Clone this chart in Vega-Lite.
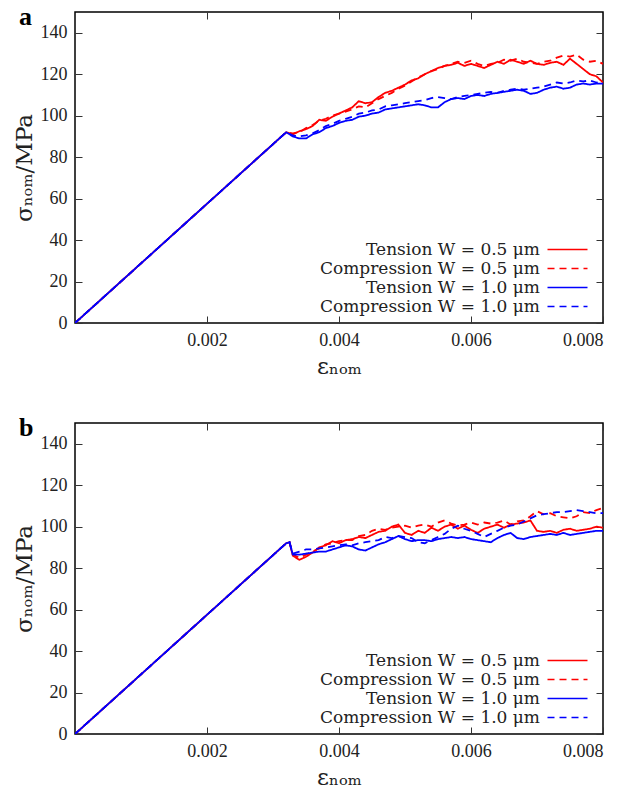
{
"$schema": "https://vega.github.io/schema/vega-lite/v6.json",
"padding": {"left": 12, "top": 2, "right": 0, "bottom": 0},
"background": "white",
"config": {
  "font": "Liberation Serif",
  "view": {"stroke": "black", "strokeWidth": 1.5},
  "axis": {"labelFont": "Liberation Serif", "labelFontSize": 18, "labelColor": "#222", "titleFont": "DejaVu Serif", "titleFontSize": 23, "titleFontWeight": "normal", "titleColor": "#222", "grid": false, "domain": false, "tickColor": "#333", "tickSize": -7, "tickWidth": 1, "labelPadding": 15},
  "axisX": {"titlePadding": 6},
  "legend": {"orient": "none", "legendX": 484, "legendY": 229, "title": null, "labelAlign": "right", "labelOffset": -36, "symbolType": "M-4,0H4", "symbolSize": 100, "symbolStrokeWidth": 1.6, "rowPadding": 1, "padding": 0, "labelFont": "DejaVu Serif", "labelFontSize": 17, "labelColor": "#222", "labelLimit": 0}
},
"datasets": {"d": [
{"p":"a","s":"T05","x":0,"y":0},{"p":"a","s":"T05","x":0.0032,"y":92},{"p":"a","s":"T05","x":0.0033,"y":91},{"p":"a","s":"T05","x":0.0034,"y":92.5},{"p":"a","s":"T05","x":0.0035,"y":93.5},{"p":"a","s":"T05","x":0.0036,"y":95},{"p":"a","s":"T05","x":0.0037,"y":98},{"p":"a","s":"T05","x":0.0038,"y":97.5},{"p":"a","s":"T05","x":0.0039,"y":99.5},{"p":"a","s":"T05","x":0.004,"y":101},{"p":"a","s":"T05","x":0.0041,"y":102.5},{"p":"a","s":"T05","x":0.0042,"y":104},{"p":"a","s":"T05","x":0.0043,"y":107},{"p":"a","s":"T05","x":0.0044,"y":106},{"p":"a","s":"T05","x":0.0045,"y":106.5},{"p":"a","s":"T05","x":0.0046,"y":109},{"p":"a","s":"T05","x":0.0047,"y":111},{"p":"a","s":"T05","x":0.0048,"y":112},{"p":"a","s":"T05","x":0.0049,"y":113.5},{"p":"a","s":"T05","x":0.005,"y":115},{"p":"a","s":"T05","x":0.0051,"y":117},{"p":"a","s":"T05","x":0.0052,"y":118},{"p":"a","s":"T05","x":0.0053,"y":120},{"p":"a","s":"T05","x":0.0054,"y":121.5},{"p":"a","s":"T05","x":0.0055,"y":123},{"p":"a","s":"T05","x":0.0056,"y":124},{"p":"a","s":"T05","x":0.0057,"y":124.5},{"p":"a","s":"T05","x":0.0058,"y":125.5},{"p":"a","s":"T05","x":0.0059,"y":124},{"p":"a","s":"T05","x":0.006,"y":125},{"p":"a","s":"T05","x":0.0061,"y":124},{"p":"a","s":"T05","x":0.0062,"y":123},{"p":"a","s":"T05","x":0.0063,"y":124.5},{"p":"a","s":"T05","x":0.0064,"y":126},{"p":"a","s":"T05","x":0.0065,"y":125},{"p":"a","s":"T05","x":0.0066,"y":127},{"p":"a","s":"T05","x":0.0067,"y":126},{"p":"a","s":"T05","x":0.0068,"y":125},{"p":"a","s":"T05","x":0.0069,"y":126.5},{"p":"a","s":"T05","x":0.007,"y":125},{"p":"a","s":"T05","x":0.0071,"y":124.5},{"p":"a","s":"T05","x":0.0072,"y":125.5},{"p":"a","s":"T05","x":0.0073,"y":126},{"p":"a","s":"T05","x":0.0074,"y":124.5},{"p":"a","s":"T05","x":0.0075,"y":127.5},{"p":"a","s":"T05","x":0.0076,"y":125},{"p":"a","s":"T05","x":0.0077,"y":122.5},{"p":"a","s":"T05","x":0.0078,"y":120},{"p":"a","s":"T05","x":0.0079,"y":119},{"p":"a","s":"T05","x":0.008,"y":116},
{"p":"a","s":"C05","x":0,"y":0},{"p":"a","s":"C05","x":0.0032,"y":92},{"p":"a","s":"C05","x":0.0033,"y":91.5},{"p":"a","s":"C05","x":0.0034,"y":92},{"p":"a","s":"C05","x":0.0035,"y":94},{"p":"a","s":"C05","x":0.0036,"y":95.5},{"p":"a","s":"C05","x":0.0037,"y":97.5},{"p":"a","s":"C05","x":0.0038,"y":98.5},{"p":"a","s":"C05","x":0.0039,"y":100},{"p":"a","s":"C05","x":0.004,"y":101},{"p":"a","s":"C05","x":0.0041,"y":102},{"p":"a","s":"C05","x":0.0042,"y":103},{"p":"a","s":"C05","x":0.0043,"y":104.5},{"p":"a","s":"C05","x":0.0044,"y":104},{"p":"a","s":"C05","x":0.0045,"y":106},{"p":"a","s":"C05","x":0.0046,"y":108},{"p":"a","s":"C05","x":0.0047,"y":109.5},{"p":"a","s":"C05","x":0.0048,"y":111},{"p":"a","s":"C05","x":0.0049,"y":113},{"p":"a","s":"C05","x":0.005,"y":114.5},{"p":"a","s":"C05","x":0.0051,"y":116.5},{"p":"a","s":"C05","x":0.0052,"y":118.5},{"p":"a","s":"C05","x":0.0053,"y":120},{"p":"a","s":"C05","x":0.0054,"y":121.5},{"p":"a","s":"C05","x":0.0055,"y":122.5},{"p":"a","s":"C05","x":0.0056,"y":124},{"p":"a","s":"C05","x":0.0057,"y":125},{"p":"a","s":"C05","x":0.0058,"y":126},{"p":"a","s":"C05","x":0.0059,"y":125.5},{"p":"a","s":"C05","x":0.006,"y":126.5},{"p":"a","s":"C05","x":0.0061,"y":125},{"p":"a","s":"C05","x":0.0062,"y":124},{"p":"a","s":"C05","x":0.0063,"y":125},{"p":"a","s":"C05","x":0.0064,"y":125.5},{"p":"a","s":"C05","x":0.0065,"y":127},{"p":"a","s":"C05","x":0.0066,"y":126.5},{"p":"a","s":"C05","x":0.0067,"y":127.5},{"p":"a","s":"C05","x":0.0068,"y":126},{"p":"a","s":"C05","x":0.0069,"y":125.5},{"p":"a","s":"C05","x":0.007,"y":125},{"p":"a","s":"C05","x":0.0071,"y":126},{"p":"a","s":"C05","x":0.0072,"y":126.5},{"p":"a","s":"C05","x":0.0073,"y":128},{"p":"a","s":"C05","x":0.0074,"y":129},{"p":"a","s":"C05","x":0.0075,"y":128.5},{"p":"a","s":"C05","x":0.0076,"y":129.5},{"p":"a","s":"C05","x":0.0077,"y":127},{"p":"a","s":"C05","x":0.0078,"y":126},{"p":"a","s":"C05","x":0.0079,"y":126.5},{"p":"a","s":"C05","x":0.008,"y":125},
{"p":"a","s":"T10","x":0,"y":0},{"p":"a","s":"T10","x":0.0032,"y":92},{"p":"a","s":"T10","x":0.0033,"y":90},{"p":"a","s":"T10","x":0.0034,"y":89},{"p":"a","s":"T10","x":0.0035,"y":89},{"p":"a","s":"T10","x":0.0036,"y":91},{"p":"a","s":"T10","x":0.0037,"y":92},{"p":"a","s":"T10","x":0.0038,"y":94},{"p":"a","s":"T10","x":0.0039,"y":95},{"p":"a","s":"T10","x":0.004,"y":96.5},{"p":"a","s":"T10","x":0.0041,"y":97.5},{"p":"a","s":"T10","x":0.0042,"y":98},{"p":"a","s":"T10","x":0.0043,"y":99.5},{"p":"a","s":"T10","x":0.0044,"y":100},{"p":"a","s":"T10","x":0.0045,"y":101},{"p":"a","s":"T10","x":0.0046,"y":101.5},{"p":"a","s":"T10","x":0.0047,"y":103},{"p":"a","s":"T10","x":0.0048,"y":103.5},{"p":"a","s":"T10","x":0.0049,"y":104},{"p":"a","s":"T10","x":0.005,"y":104.5},{"p":"a","s":"T10","x":0.0051,"y":105},{"p":"a","s":"T10","x":0.0052,"y":105.5},{"p":"a","s":"T10","x":0.0053,"y":105},{"p":"a","s":"T10","x":0.0054,"y":104},{"p":"a","s":"T10","x":0.0055,"y":104},{"p":"a","s":"T10","x":0.0056,"y":106.5},{"p":"a","s":"T10","x":0.0057,"y":108},{"p":"a","s":"T10","x":0.0058,"y":108.5},{"p":"a","s":"T10","x":0.0059,"y":108},{"p":"a","s":"T10","x":0.006,"y":109.5},{"p":"a","s":"T10","x":0.0061,"y":110},{"p":"a","s":"T10","x":0.0062,"y":109.5},{"p":"a","s":"T10","x":0.0063,"y":110.5},{"p":"a","s":"T10","x":0.0064,"y":111},{"p":"a","s":"T10","x":0.0065,"y":111.5},{"p":"a","s":"T10","x":0.0066,"y":112},{"p":"a","s":"T10","x":0.0067,"y":112.5},{"p":"a","s":"T10","x":0.0068,"y":112},{"p":"a","s":"T10","x":0.0069,"y":110.5},{"p":"a","s":"T10","x":0.007,"y":111},{"p":"a","s":"T10","x":0.0071,"y":112.5},{"p":"a","s":"T10","x":0.0072,"y":113.5},{"p":"a","s":"T10","x":0.0073,"y":114},{"p":"a","s":"T10","x":0.0074,"y":113},{"p":"a","s":"T10","x":0.0075,"y":113.5},{"p":"a","s":"T10","x":0.0076,"y":115},{"p":"a","s":"T10","x":0.0077,"y":115.5},{"p":"a","s":"T10","x":0.0078,"y":115},{"p":"a","s":"T10","x":0.0079,"y":115.5},{"p":"a","s":"T10","x":0.008,"y":115.5},
{"p":"a","s":"C10","x":0,"y":0},{"p":"a","s":"C10","x":0.0032,"y":92},{"p":"a","s":"C10","x":0.0033,"y":90.5},{"p":"a","s":"C10","x":0.0034,"y":90},{"p":"a","s":"C10","x":0.0035,"y":90.5},{"p":"a","s":"C10","x":0.0036,"y":91.5},{"p":"a","s":"C10","x":0.0037,"y":93},{"p":"a","s":"C10","x":0.0038,"y":95},{"p":"a","s":"C10","x":0.0039,"y":96},{"p":"a","s":"C10","x":0.004,"y":97.5},{"p":"a","s":"C10","x":0.0041,"y":98.5},{"p":"a","s":"C10","x":0.0042,"y":99.5},{"p":"a","s":"C10","x":0.0043,"y":101},{"p":"a","s":"C10","x":0.0044,"y":101.5},{"p":"a","s":"C10","x":0.0045,"y":102.5},{"p":"a","s":"C10","x":0.0046,"y":103},{"p":"a","s":"C10","x":0.0047,"y":104.5},{"p":"a","s":"C10","x":0.0048,"y":105},{"p":"a","s":"C10","x":0.0049,"y":105.5},{"p":"a","s":"C10","x":0.005,"y":106},{"p":"a","s":"C10","x":0.0051,"y":106.5},{"p":"a","s":"C10","x":0.0052,"y":107},{"p":"a","s":"C10","x":0.0053,"y":107.5},{"p":"a","s":"C10","x":0.0054,"y":108.5},{"p":"a","s":"C10","x":0.0055,"y":109},{"p":"a","s":"C10","x":0.0056,"y":108.5},{"p":"a","s":"C10","x":0.0057,"y":108},{"p":"a","s":"C10","x":0.0058,"y":109},{"p":"a","s":"C10","x":0.0059,"y":109.5},{"p":"a","s":"C10","x":0.006,"y":110},{"p":"a","s":"C10","x":0.0061,"y":110.5},{"p":"a","s":"C10","x":0.0062,"y":111},{"p":"a","s":"C10","x":0.0063,"y":111.5},{"p":"a","s":"C10","x":0.0064,"y":111},{"p":"a","s":"C10","x":0.0065,"y":112},{"p":"a","s":"C10","x":0.0066,"y":112.5},{"p":"a","s":"C10","x":0.0067,"y":113},{"p":"a","s":"C10","x":0.0068,"y":112.5},{"p":"a","s":"C10","x":0.0069,"y":113},{"p":"a","s":"C10","x":0.007,"y":113.5},{"p":"a","s":"C10","x":0.0071,"y":114},{"p":"a","s":"C10","x":0.0072,"y":115},{"p":"a","s":"C10","x":0.0073,"y":116},{"p":"a","s":"C10","x":0.0074,"y":115.5},{"p":"a","s":"C10","x":0.0075,"y":116},{"p":"a","s":"C10","x":0.0076,"y":117},{"p":"a","s":"C10","x":0.0077,"y":116.5},{"p":"a","s":"C10","x":0.0078,"y":117},{"p":"a","s":"C10","x":0.0079,"y":116},{"p":"a","s":"C10","x":0.008,"y":115.5},
{"p":"b","s":"T05","x":0,"y":0},{"p":"b","s":"T05","x":0.0032,"y":92},{"p":"b","s":"T05","x":0.00325,"y":92.5},{"p":"b","s":"T05","x":0.0033,"y":86},{"p":"b","s":"T05","x":0.0034,"y":84},{"p":"b","s":"T05","x":0.0035,"y":85.5},{"p":"b","s":"T05","x":0.0036,"y":87.5},{"p":"b","s":"T05","x":0.0037,"y":90},{"p":"b","s":"T05","x":0.0038,"y":91},{"p":"b","s":"T05","x":0.0039,"y":93},{"p":"b","s":"T05","x":0.004,"y":92},{"p":"b","s":"T05","x":0.0041,"y":93.5},{"p":"b","s":"T05","x":0.0042,"y":94},{"p":"b","s":"T05","x":0.0043,"y":95},{"p":"b","s":"T05","x":0.0044,"y":94.5},{"p":"b","s":"T05","x":0.0045,"y":96},{"p":"b","s":"T05","x":0.0046,"y":97.5},{"p":"b","s":"T05","x":0.0047,"y":98},{"p":"b","s":"T05","x":0.0048,"y":100},{"p":"b","s":"T05","x":0.0049,"y":101},{"p":"b","s":"T05","x":0.005,"y":97},{"p":"b","s":"T05","x":0.0051,"y":96},{"p":"b","s":"T05","x":0.0052,"y":98},{"p":"b","s":"T05","x":0.0053,"y":97},{"p":"b","s":"T05","x":0.0054,"y":99.5},{"p":"b","s":"T05","x":0.0055,"y":98},{"p":"b","s":"T05","x":0.0056,"y":100},{"p":"b","s":"T05","x":0.0057,"y":101},{"p":"b","s":"T05","x":0.0058,"y":99},{"p":"b","s":"T05","x":0.0059,"y":100.5},{"p":"b","s":"T05","x":0.006,"y":98.5},{"p":"b","s":"T05","x":0.0061,"y":97},{"p":"b","s":"T05","x":0.0062,"y":99},{"p":"b","s":"T05","x":0.0063,"y":100},{"p":"b","s":"T05","x":0.0064,"y":101},{"p":"b","s":"T05","x":0.0065,"y":99.5},{"p":"b","s":"T05","x":0.0066,"y":101},{"p":"b","s":"T05","x":0.0067,"y":101.5},{"p":"b","s":"T05","x":0.0068,"y":102},{"p":"b","s":"T05","x":0.0069,"y":103},{"p":"b","s":"T05","x":0.007,"y":98},{"p":"b","s":"T05","x":0.0071,"y":97.5},{"p":"b","s":"T05","x":0.0072,"y":98},{"p":"b","s":"T05","x":0.0073,"y":97},{"p":"b","s":"T05","x":0.0074,"y":98.5},{"p":"b","s":"T05","x":0.0075,"y":99},{"p":"b","s":"T05","x":0.0076,"y":98},{"p":"b","s":"T05","x":0.0077,"y":98.5},{"p":"b","s":"T05","x":0.0078,"y":99},{"p":"b","s":"T05","x":0.0079,"y":100},{"p":"b","s":"T05","x":0.008,"y":99.5},
{"p":"b","s":"C05","x":0,"y":0},{"p":"b","s":"C05","x":0.0032,"y":92},{"p":"b","s":"C05","x":0.00325,"y":92.5},{"p":"b","s":"C05","x":0.0033,"y":86.5},{"p":"b","s":"C05","x":0.0034,"y":85},{"p":"b","s":"C05","x":0.0035,"y":86.5},{"p":"b","s":"C05","x":0.0036,"y":88},{"p":"b","s":"C05","x":0.0037,"y":89.5},{"p":"b","s":"C05","x":0.0038,"y":91.5},{"p":"b","s":"C05","x":0.0039,"y":92},{"p":"b","s":"C05","x":0.004,"y":93},{"p":"b","s":"C05","x":0.0041,"y":93.5},{"p":"b","s":"C05","x":0.0042,"y":93.5},{"p":"b","s":"C05","x":0.0043,"y":95.5},{"p":"b","s":"C05","x":0.0044,"y":96},{"p":"b","s":"C05","x":0.0045,"y":98},{"p":"b","s":"C05","x":0.0046,"y":99},{"p":"b","s":"C05","x":0.0047,"y":98.5},{"p":"b","s":"C05","x":0.0048,"y":99.5},{"p":"b","s":"C05","x":0.0049,"y":100},{"p":"b","s":"C05","x":0.005,"y":100.5},{"p":"b","s":"C05","x":0.0051,"y":99.5},{"p":"b","s":"C05","x":0.0052,"y":100.5},{"p":"b","s":"C05","x":0.0053,"y":101},{"p":"b","s":"C05","x":0.0054,"y":100},{"p":"b","s":"C05","x":0.0055,"y":102},{"p":"b","s":"C05","x":0.0056,"y":103},{"p":"b","s":"C05","x":0.0057,"y":101.5},{"p":"b","s":"C05","x":0.0058,"y":100.5},{"p":"b","s":"C05","x":0.0059,"y":101},{"p":"b","s":"C05","x":0.006,"y":102},{"p":"b","s":"C05","x":0.0061,"y":101},{"p":"b","s":"C05","x":0.0062,"y":102},{"p":"b","s":"C05","x":0.0063,"y":101.5},{"p":"b","s":"C05","x":0.0064,"y":102},{"p":"b","s":"C05","x":0.0065,"y":103},{"p":"b","s":"C05","x":0.0066,"y":101},{"p":"b","s":"C05","x":0.0067,"y":102.5},{"p":"b","s":"C05","x":0.0068,"y":103},{"p":"b","s":"C05","x":0.0069,"y":105},{"p":"b","s":"C05","x":0.007,"y":107.5},{"p":"b","s":"C05","x":0.0071,"y":106},{"p":"b","s":"C05","x":0.0072,"y":106.5},{"p":"b","s":"C05","x":0.0073,"y":105},{"p":"b","s":"C05","x":0.0074,"y":104.5},{"p":"b","s":"C05","x":0.0075,"y":104},{"p":"b","s":"C05","x":0.0076,"y":105},{"p":"b","s":"C05","x":0.0077,"y":107},{"p":"b","s":"C05","x":0.0078,"y":106.5},{"p":"b","s":"C05","x":0.0079,"y":108},{"p":"b","s":"C05","x":0.008,"y":109},
{"p":"b","s":"T10","x":0,"y":0},{"p":"b","s":"T10","x":0.0032,"y":92},{"p":"b","s":"T10","x":0.00325,"y":92.5},{"p":"b","s":"T10","x":0.0033,"y":86.5},{"p":"b","s":"T10","x":0.0034,"y":86.5},{"p":"b","s":"T10","x":0.0035,"y":87},{"p":"b","s":"T10","x":0.0036,"y":87.5},{"p":"b","s":"T10","x":0.0037,"y":88},{"p":"b","s":"T10","x":0.0038,"y":88},{"p":"b","s":"T10","x":0.0039,"y":89},{"p":"b","s":"T10","x":0.004,"y":90},{"p":"b","s":"T10","x":0.0041,"y":91},{"p":"b","s":"T10","x":0.0042,"y":90.5},{"p":"b","s":"T10","x":0.0043,"y":89},{"p":"b","s":"T10","x":0.0044,"y":88.5},{"p":"b","s":"T10","x":0.0045,"y":90},{"p":"b","s":"T10","x":0.0046,"y":91.5},{"p":"b","s":"T10","x":0.0047,"y":92.5},{"p":"b","s":"T10","x":0.0048,"y":94},{"p":"b","s":"T10","x":0.0049,"y":95.5},{"p":"b","s":"T10","x":0.005,"y":94},{"p":"b","s":"T10","x":0.0051,"y":93},{"p":"b","s":"T10","x":0.0052,"y":93.5},{"p":"b","s":"T10","x":0.0053,"y":93.5},{"p":"b","s":"T10","x":0.0054,"y":93},{"p":"b","s":"T10","x":0.0055,"y":94},{"p":"b","s":"T10","x":0.0056,"y":94.5},{"p":"b","s":"T10","x":0.0057,"y":95},{"p":"b","s":"T10","x":0.0058,"y":94.5},{"p":"b","s":"T10","x":0.0059,"y":95},{"p":"b","s":"T10","x":0.006,"y":94},{"p":"b","s":"T10","x":0.0061,"y":93.5},{"p":"b","s":"T10","x":0.0062,"y":93},{"p":"b","s":"T10","x":0.0063,"y":92.5},{"p":"b","s":"T10","x":0.0064,"y":94.5},{"p":"b","s":"T10","x":0.0065,"y":96},{"p":"b","s":"T10","x":0.0066,"y":97},{"p":"b","s":"T10","x":0.0067,"y":94.5},{"p":"b","s":"T10","x":0.0068,"y":94},{"p":"b","s":"T10","x":0.0069,"y":95},{"p":"b","s":"T10","x":0.007,"y":95.5},{"p":"b","s":"T10","x":0.0071,"y":96},{"p":"b","s":"T10","x":0.0072,"y":96.5},{"p":"b","s":"T10","x":0.0073,"y":96},{"p":"b","s":"T10","x":0.0074,"y":97},{"p":"b","s":"T10","x":0.0075,"y":96},{"p":"b","s":"T10","x":0.0076,"y":96.5},{"p":"b","s":"T10","x":0.0077,"y":97},{"p":"b","s":"T10","x":0.0078,"y":97.5},{"p":"b","s":"T10","x":0.0079,"y":98},{"p":"b","s":"T10","x":0.008,"y":98},
{"p":"b","s":"C10","x":0,"y":0},{"p":"b","s":"C10","x":0.0032,"y":92},{"p":"b","s":"C10","x":0.00325,"y":92.5},{"p":"b","s":"C10","x":0.0033,"y":87},{"p":"b","s":"C10","x":0.0034,"y":88},{"p":"b","s":"C10","x":0.0035,"y":89},{"p":"b","s":"C10","x":0.0036,"y":89},{"p":"b","s":"C10","x":0.0037,"y":89.5},{"p":"b","s":"C10","x":0.0038,"y":90},{"p":"b","s":"C10","x":0.0039,"y":90.5},{"p":"b","s":"C10","x":0.004,"y":91},{"p":"b","s":"C10","x":0.0041,"y":91.5},{"p":"b","s":"C10","x":0.0042,"y":91},{"p":"b","s":"C10","x":0.0043,"y":92},{"p":"b","s":"C10","x":0.0044,"y":92.5},{"p":"b","s":"C10","x":0.0045,"y":93},{"p":"b","s":"C10","x":0.0046,"y":93.5},{"p":"b","s":"C10","x":0.0047,"y":95},{"p":"b","s":"C10","x":0.0048,"y":94.5},{"p":"b","s":"C10","x":0.0049,"y":95.5},{"p":"b","s":"C10","x":0.005,"y":95},{"p":"b","s":"C10","x":0.0051,"y":94.5},{"p":"b","s":"C10","x":0.0052,"y":92.5},{"p":"b","s":"C10","x":0.0053,"y":92},{"p":"b","s":"C10","x":0.0054,"y":93.5},{"p":"b","s":"C10","x":0.0055,"y":95},{"p":"b","s":"C10","x":0.0056,"y":96.5},{"p":"b","s":"C10","x":0.0057,"y":99},{"p":"b","s":"C10","x":0.0058,"y":100.5},{"p":"b","s":"C10","x":0.0059,"y":99},{"p":"b","s":"C10","x":0.006,"y":98},{"p":"b","s":"C10","x":0.0061,"y":96.5},{"p":"b","s":"C10","x":0.0062,"y":95},{"p":"b","s":"C10","x":0.0063,"y":96.5},{"p":"b","s":"C10","x":0.0064,"y":98},{"p":"b","s":"C10","x":0.0065,"y":99.5},{"p":"b","s":"C10","x":0.0066,"y":100.5},{"p":"b","s":"C10","x":0.0067,"y":101},{"p":"b","s":"C10","x":0.0068,"y":102.5},{"p":"b","s":"C10","x":0.0069,"y":104},{"p":"b","s":"C10","x":0.007,"y":105.5},{"p":"b","s":"C10","x":0.0071,"y":106},{"p":"b","s":"C10","x":0.0072,"y":106.5},{"p":"b","s":"C10","x":0.0073,"y":107},{"p":"b","s":"C10","x":0.0074,"y":107},{"p":"b","s":"C10","x":0.0075,"y":107.5},{"p":"b","s":"C10","x":0.0076,"y":108},{"p":"b","s":"C10","x":0.0077,"y":107.5},{"p":"b","s":"C10","x":0.0078,"y":107},{"p":"b","s":"C10","x":0.0079,"y":106.5},{"p":"b","s":"C10","x":0.008,"y":106.5}
]},
"spacing": 100,
"bounds": "flush",
"vconcat": [
{
  "width": 528, "height": 311,
  "title": {"text": "a", "anchor": "start", "frame": "group", "dx": -56, "dy": 39, "offset": 0, "baseline": "alphabetic", "font": "Liberation Serif", "fontWeight": "bold", "fontSize": 26, "color": "black"},
  "data": {"name": "d"},
  "transform": [{"filter": "datum.p === 'a'"}],
  "layer": [
    {"mark": {"type": "line", "strokeWidth": 1.8, "clip": true},
     "encoding": {
       "x": {"field": "x", "type": "quantitative", "scale": {"domain": [0, 0.008], "nice": false}, "axis": {"orient": "bottom", "values": [0.002, 0.004, 0.006, 0.008], "format": ".3f", "title": "εₙₒₘ"}},
       "y": {"field": "y", "type": "quantitative", "scale": {"domain": [0, 150], "nice": false}, "axis": {"orient": "left", "values": [0, 20, 40, 60, 80, 100, 120, 140], "title": "σₙₒₘ/MPa"}},
       "color": {"field": "s", "type": "nominal", "scale": {"domain": ["T05", "C05", "T10", "C10"], "range": ["#ff0000", "#ff0000", "#0000ff", "#0000ff"]}, "legend": {"title": null, "labelExpr": "{'T05':'Tension W = 0.5 μm','C05':'Compression W = 0.5 μm','T10':'Tension W = 1.0 μm','C10':'Compression W = 1.0 μm'}[datum.label]"}},
       "strokeDash": {"field": "s", "type": "nominal", "scale": {"domain": ["T05", "C05", "T10", "C10"], "range": [[1, 0], [7, 5], [1, 0], [7, 5]]}, "legend": {"title": null, "labelExpr": "{'T05':'Tension W = 0.5 μm','C05':'Compression W = 0.5 μm','T10':'Tension W = 1.0 μm','C10':'Compression W = 1.0 μm'}[datum.label]"}}
     }},
    {"mark": {"type": "line", "strokeOpacity": 0},
     "encoding": {
       "x": {"field": "x", "type": "quantitative", "axis": {"orient": "top", "values": [0.002, 0.004, 0.006, 0.008], "labels": false, "title": null}},
       "y": {"field": "y", "type": "quantitative", "axis": {"orient": "right", "values": [0, 20, 40, 60, 80, 100, 120, 140], "labels": false, "title": null}},
       "detail": {"field": "s"}
     }}
  ],
  "resolve": {"axis": {"x": "independent", "y": "independent"}}
},
{
  "width": 528, "height": 311,
  "title": {"text": "b", "anchor": "start", "frame": "group", "dx": -56, "dy": 39, "offset": 0, "baseline": "alphabetic", "font": "Liberation Serif", "fontWeight": "bold", "fontSize": 26, "color": "black"},
  "data": {"name": "d"},
  "transform": [{"filter": "datum.p === 'b'"}],
  "layer": [
    {"mark": {"type": "line", "strokeWidth": 1.8, "clip": true},
     "encoding": {
       "x": {"field": "x", "type": "quantitative", "scale": {"domain": [0, 0.008], "nice": false}, "axis": {"orient": "bottom", "values": [0.002, 0.004, 0.006, 0.008], "format": ".3f", "title": "εₙₒₘ"}},
       "y": {"field": "y", "type": "quantitative", "scale": {"domain": [0, 150], "nice": false}, "axis": {"orient": "left", "values": [0, 20, 40, 60, 80, 100, 120, 140], "title": "σₙₒₘ/MPa"}},
       "color": {"field": "s", "type": "nominal", "scale": {"domain": ["T05", "C05", "T10", "C10"], "range": ["#ff0000", "#ff0000", "#0000ff", "#0000ff"]}, "legend": {"title": null, "labelExpr": "{'T05':'Tension W = 0.5 μm','C05':'Compression W = 0.5 μm','T10':'Tension W = 1.0 μm','C10':'Compression W = 1.0 μm'}[datum.label]"}},
       "strokeDash": {"field": "s", "type": "nominal", "scale": {"domain": ["T05", "C05", "T10", "C10"], "range": [[1, 0], [7, 5], [1, 0], [7, 5]]}, "legend": {"title": null, "labelExpr": "{'T05':'Tension W = 0.5 μm','C05':'Compression W = 0.5 μm','T10':'Tension W = 1.0 μm','C10':'Compression W = 1.0 μm'}[datum.label]"}}
     }},
    {"mark": {"type": "line", "strokeOpacity": 0},
     "encoding": {
       "x": {"field": "x", "type": "quantitative", "axis": {"orient": "top", "values": [0.002, 0.004, 0.006, 0.008], "labels": false, "title": null}},
       "y": {"field": "y", "type": "quantitative", "axis": {"orient": "right", "values": [0, 20, 40, 60, 80, 100, 120, 140], "labels": false, "title": null}},
       "detail": {"field": "s"}
     }}
  ],
  "resolve": {"axis": {"x": "independent", "y": "independent"}}
}
],
"resolve": {"scale": {"color": "independent", "strokeDash": "independent"}, "legend": {"color": "independent", "strokeDash": "independent"}}
}
